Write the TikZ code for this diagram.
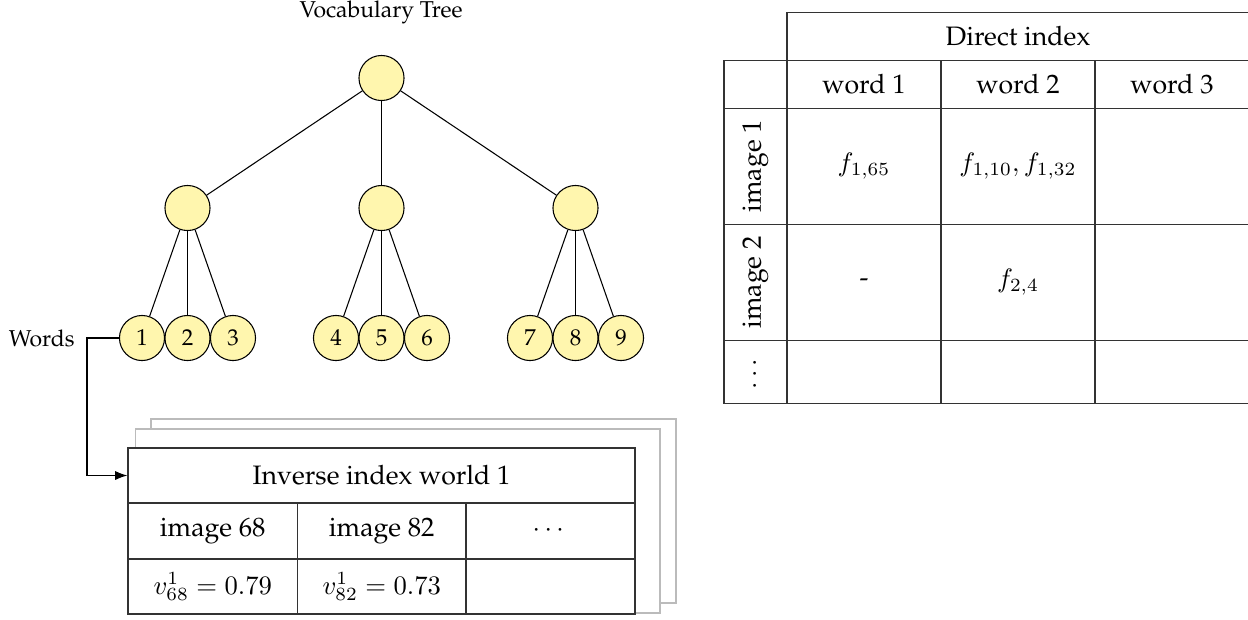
\documentclass[tikz,border=0pt]{standalone}
\usepackage[T1]{fontenc}
\renewcommand{\rmdefault}{ppl}
\usepackage{amsmath}
\usepackage{tikz}
\usetikzlibrary{arrows.meta,positioning,calc}
\definecolor{TreeFill}{HTML}{FFF6AE}
\definecolor{SheetLine}{HTML}{BBBBBB}
\definecolor{GridLine}{HTML}{333333}
\newcommand{\treefont}{\fontsize{8.6}{10}\selectfont}

\begin{document}
\begin{tikzpicture}[
    x=0.375pt,y=-0.375pt,
    vnode/.style={circle,draw,fill=TreeFill,line width=0.4pt,minimum size=16.9pt,
      inner sep=0pt,font=\treefont},
    edge/.style={line width=0.4pt},
    cell/.style={draw=GridLine,fill=white,line width=0.5pt,inner sep=0pt,
      minimum width=#1,font=\normalsize},
    cell/.default=57.4pt,
    sheet/.style={draw=SheetLine,fill=white,line width=0.5pt},
    arrow/.style={-{Latex[length=1.6mm,width=1.2mm]},line width=0.4pt}
  ]
    \useasboundingbox (0,0) rectangle (1248,619);

    % vocabulary tree
    \node[font=\treefont] (title) at (381,12) {Vocabulary Tree};
    \node[vnode] (root) at (381.5,78) {};
    \node[vnode] (m1) at (187.5,208) {};
    \node[vnode] (m2) at (381.5,208) {};
    \node[vnode] (m3) at (575.5,208) {};
    \node[vnode] (w1) at (142,338) {1};
    \node[vnode] (w2) at (187.5,338) {2};
    \node[vnode] (w3) at (233,338) {3};
    \node[vnode] (w4) at (336,338) {4};
    \node[vnode] (w5) at (381.5,338) {5};
    \node[vnode] (w6) at (427,338) {6};
    \node[vnode] (w7) at (530,338) {7};
    \node[vnode] (w8) at (575.5,338) {8};
    \node[vnode] (w9) at (621,338) {9};
    \foreach \m in {m1,m2,m3}
      \draw[edge] (root) -- (\m);
    \foreach \m/\a/\b/\c in {m1/w1/w2/w3,m2/w4/w5/w6,m3/w7/w8/w9} {
      \draw[edge] (\m) -- (\a);
      \draw[edge] (\m) -- (\b);
      \draw[edge] (\m) -- (\c);
    }
    \node[font=\treefont,anchor=east] (words) at (84,338) {Words};

    % inverse index (stacked sheets)
    \filldraw[sheet] (151,419) rectangle (676,603);
    \filldraw[sheet] (135.5,429) rectangle (660,613);
    \node[cell=190.1pt,minimum height=20.6pt] (invhead) at (381.5,475.5) {Inverse index world 1};
    \node[cell=63.6pt,minimum height=21pt] (inv11) at (212.75,531) {image 68};
    \node[cell=63.2pt,minimum height=21pt] (inv12) at (381.75,531) {image 82};
    \node[cell=63.4pt,minimum height=21pt] (inv13) at (550.5,531) {$\cdots$};
    \node[cell=63.6pt,minimum height=20.6pt] (inv21) at (212.75,586.5) {$v^1_{68}=0.79$};
    \node[cell=63.2pt,minimum height=20.6pt] (inv22) at (381.75,586.5) {$v^1_{82}=0.73$};
    \node[cell=63.4pt,minimum height=20.6pt] (inv23) at (550.5,586.5) {};
    \coordinate (bend) at (87,338);
    \draw[arrow] (w1.west) -- (bend) |- (invhead.west);

    % direct index
    \node[cell=173.3pt,minimum height=18.2pt] (dirhead) at (1018,36.5) {Direct index};
    \node[cell=23.6pt,minimum height=17.9pt] (d00) at (755.5,84.5) {};
    \node[cell,minimum height=17.9pt] (d01) at (864,84.5) {word 1};
    \node[cell,minimum height=17.9pt] (d02) at (1018,84.5) {word 2};
    \node[cell,minimum height=17.9pt] (d03) at (1172,84.5) {word 3};
    \node[cell=43.5pt,minimum height=23.6pt,rotate=90] (d10) at (755.5,166.3) {image 1};
    \node[cell,minimum height=43.5pt] (d11) at (864,166.3) {$f_{1,65}$};
    \node[cell,minimum height=43.5pt] (d12) at (1018,166.3) {$f_{1,10},f_{1,32}$};
    \node[cell,minimum height=43.5pt] (d13) at (1172,166.3) {};
    \node[cell=43.6pt,minimum height=23.6pt,rotate=90] (d20) at (755.5,282.5) {image 2};
    \node[cell,minimum height=43.6pt] (d21) at (864,282.5) {-};
    \node[cell,minimum height=43.6pt] (d22) at (1018,282.5) {$f_{2,4}$};
    \node[cell,minimum height=43.6pt] (d23) at (1172,282.5) {};
    \node[cell=23.5pt,minimum height=23.6pt,rotate=90] (d30) at (755.5,372) {$\cdots$};
    \node[cell,minimum height=23.5pt] (d31) at (864,372) {};
    \node[cell,minimum height=23.5pt] (d32) at (1018,372) {};
    \node[cell,minimum height=23.5pt] (d33) at (1172,372) {};
  \end{tikzpicture}
\end{document}
